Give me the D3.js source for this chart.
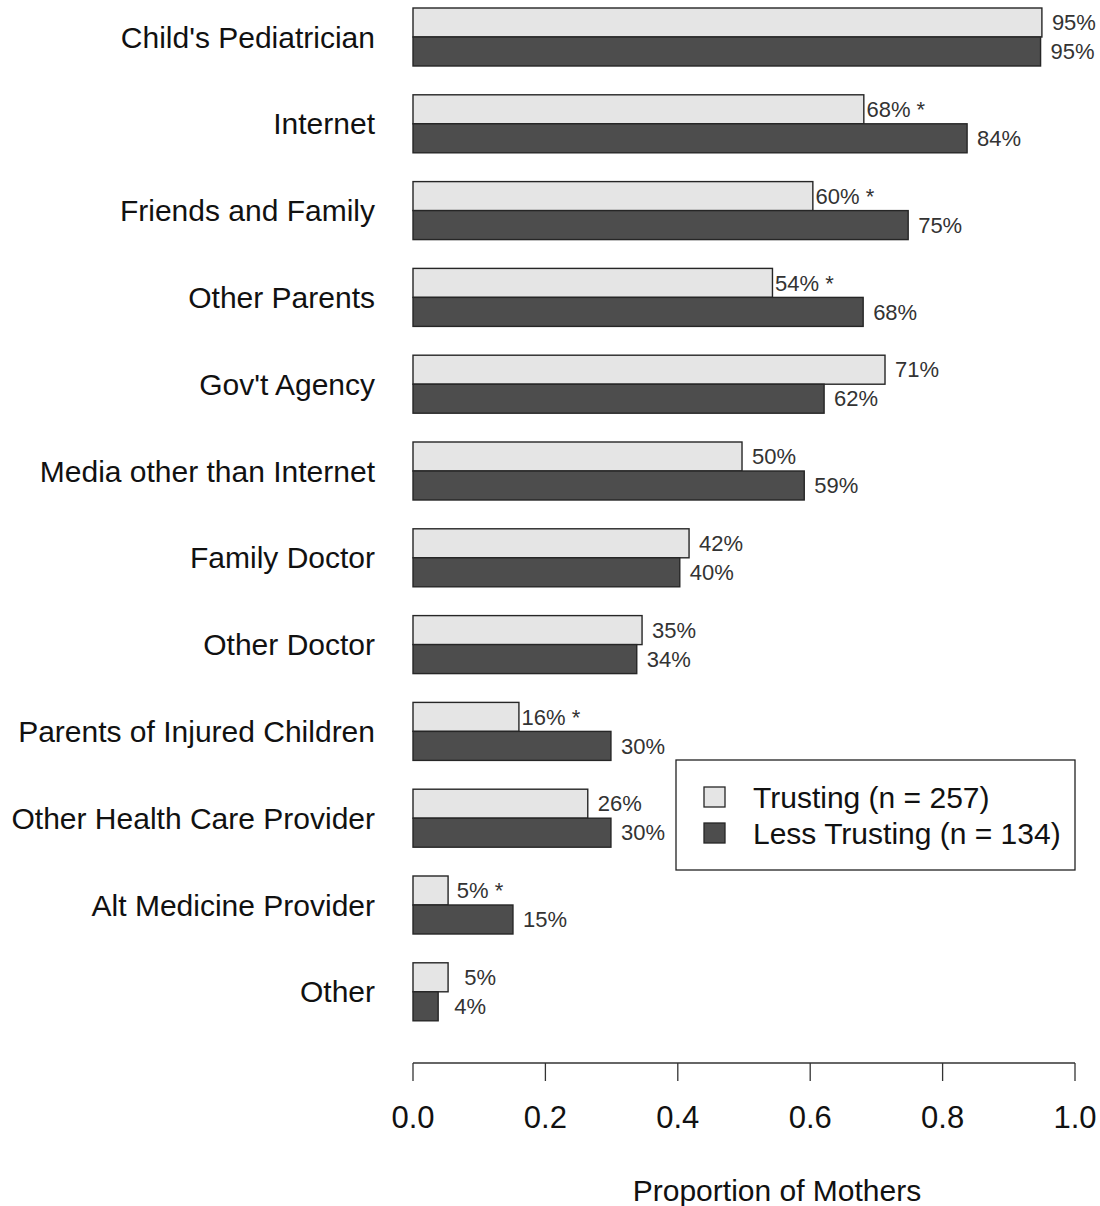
<!DOCTYPE html>
<html>
<head>
<meta charset="utf-8">
<script src="https://cdn.jsdelivr.net/npm/d3@7"></script>
<style>
  body { margin: 0; background: #fff; }
  svg { display: block; font-family: "Liberation Sans", Arial, sans-serif; }
</style>
</head>
<body>
<div id="viz"></div>
<script>
const categories = [
  "Child's Pediatrician", 'Internet', 'Friends and Family', 'Other Parents',
  "Gov't Agency", 'Media other than Internet', 'Family Doctor', 'Other Doctor',
  'Parents of Injured Children', 'Other Health Care Provider', 'Alt Medicine Provider', 'Other'
];
const trusting     = [0.950, 0.681, 0.604, 0.543, 0.713, 0.497, 0.417, 0.346, 0.160, 0.264, 0.053, 0.053];
const lessTrusting = [0.948, 0.837, 0.748, 0.680, 0.621, 0.591, 0.403, 0.338, 0.299, 0.299, 0.151, 0.038];
const trustingLabels = ['95%', '68% *', '60% *', '54% *', '71%', '50%', '42%', '35%', '16% *', '26%', '5% *', '5%'];
const lessLabels     = ['95%', '84%', '75%', '68%', '62%', '59%', '40%', '34%', '30%', '30%', '15%', '4%'];
const xTicks = [0, 0.2, 0.4, 0.6, 0.8, 1.0];
const seriesNames = ['Trusting (n = 257)', 'Less Trusting (n = 134)'];

const W = 1100, H = 1206;
const light = '#e5e5e5', dark = '#4d4d4d', edge = '#262626';

const svg = d3.select('#viz').append('svg').attr('width', W).attr('height', H);

const x = d3.scaleLinear().domain([0, 1]).range([413, 1075]);
// groups step by ~86.8px, each group is two 29px bars
const step = 86.8, gap = 28.8;
const y = d3.scaleBand().domain(categories)
  .range([8 - gap / 2, 8 - gap / 2 + step * categories.length])
  .paddingInner(gap / step).paddingOuter(gap / step / 2);
const barH = y.bandwidth() / 2;

const g = svg.append('g');
categories.forEach((c, i) => {
  const top = y(c);
  const rows = [
    { v: trusting[i], lab: trustingLabels[i], fill: light, y0: top },
    { v: lessTrusting[i], lab: lessLabels[i], fill: dark, y0: top + barH }
  ];
  rows.forEach(r => {
    g.append('rect')
      .attr('x', x(0)).attr('y', r.y0)
      .attr('width', x(r.v) - x(0)).attr('height', barH)
      .attr('fill', r.fill).attr('stroke', edge).attr('stroke-width', 1.4);
    g.append('text')
      .attr('x', x(r.v) + 32).attr('y', r.y0 + barH / 2)
      .attr('dy', '0.35em')
      .attr('text-anchor', 'middle')
      .attr('font-size', '22px')
      .attr('fill', '#333')
      .text(r.lab);
  });
  g.append('text')
    .attr('x', 375).attr('y', top + barH)
    .attr('dy', '0.35em')
    .attr('text-anchor', 'end')
    .attr('font-size', '30px')
    .attr('fill', '#111')
    .text(c);
});

// x axis
const axis = svg.append('g').attr('transform', 'translate(0,1063)');
axis.append('line')
  .attr('x1', x(0)).attr('x2', x(1))
  .attr('stroke', '#333').attr('stroke-width', 1.3);
axis.selectAll('.tick').data(xTicks).join('line')
  .attr('x1', d => x(d)).attr('x2', d => x(d))
  .attr('y1', 0).attr('y2', 18)
  .attr('stroke', '#333').attr('stroke-width', 1.3);
axis.selectAll('.tl').data(xTicks).join('text')
  .attr('x', d => x(d)).attr('y', 54)
  .attr('dy', '0.35em')
  .attr('text-anchor', 'middle')
  .attr('font-size', '31px')
  .attr('fill', '#111')
  .text(d => d3.format('.1f')(d));

svg.append('text')
  .attr('x', 777).attr('y', 1190)
  .attr('dy', '0.35em')
  .attr('text-anchor', 'middle')
  .attr('font-size', '30px')
  .attr('fill', '#111')
  .text('Proportion of Mothers');

// legend
const leg = svg.append('g');
leg.append('rect')
  .attr('x', 676).attr('y', 760).attr('width', 399).attr('height', 110)
  .attr('fill', '#fff').attr('stroke', '#222').attr('stroke-width', 1.3);
seriesNames.forEach((s, i) => {
  const cy = 797 + i * 36;
  leg.append('rect')
    .attr('x', 704).attr('y', cy - 10).attr('width', 21).attr('height', 20)
    .attr('fill', i === 0 ? light : dark).attr('stroke', edge).attr('stroke-width', 1.3);
  leg.append('text')
    .attr('x', 753).attr('y', cy)
    .attr('dy', '0.35em')
    .attr('font-size', '30px')
    .attr('fill', '#111')
    .text(s);
});
</script>
</body>
</html>
